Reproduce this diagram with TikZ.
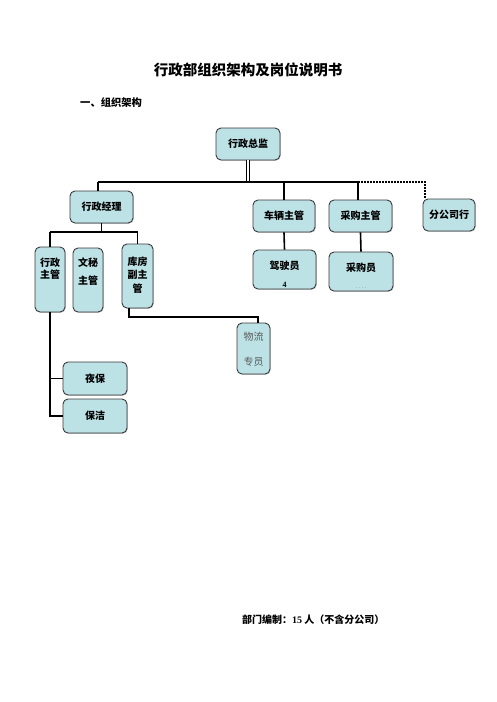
\documentclass[tikz,border=0pt]{standalone}
\usepackage{fontspec}
\setmainfont{Liberation Serif}
\newfontfamily\cjk{Noto Sans CJK SC}
\usetikzlibrary{shadows}
\definecolor{boxc}{HTML}{BCE2E6}
\definecolor{edgec}{HTML}{3A3A3A}
\tikzset{
  box/.style={draw=edgec, fill=boxc, rounded corners=5pt, line width=0.9pt,
    inner sep=0pt, align=center, font=\cjk\bfseries\fontsize{10}{12}\selectfont,
    drop shadow={shadow xshift=0.8pt, shadow yshift=-0.8pt, fill=black!35, opacity=0.6}},
  link/.style={line width=1.6pt, draw=black},
  thin/.style={line width=0.8pt, draw=black},
}
\begin{document}
\begin{tikzpicture}[x=1pt,y=-1pt]
\useasboundingbox (0,0) rectangle (496,702);
% texts
\node[font=\cjk\bfseries\fontsize{14.5}{16}\selectfont] (title) at (248,70) {行政部组织架构及岗位说明书};
\node[anchor=west, inner sep=0pt, font=\cjk\bfseries\fontsize{10.3}{12}\selectfont] (sec) at (80,103) {一、组织架构};
\node[anchor=west, inner sep=0pt, font=\cjk\bfseries\fontsize{10}{12}\selectfont] (foot) at (242,620) {部门编制：{\rmfamily 15} 人（不含分公司）};
% boxes
\node[box, minimum width=64pt, minimum height=32pt] (zj) at (248,144) {行政总监};
\node[box, minimum width=63pt, minimum height=32pt] (jl) at (101.5,207) {行政经理};
\node[box, minimum width=62pt, minimum height=32pt] (cl) at (284,216) {车辆主管};
\node[box, minimum width=63pt, minimum height=32pt] (cg) at (360.5,216) {采购主管};
\node[box, minimum width=52pt, minimum height=32pt] (fg) at (449,215) {分公司行};
\node[box, minimum width=63pt, minimum height=39pt] (js) at (284.5,269.5) {};
\node[font=\cjk\bfseries\fontsize{10}{12}\selectfont] (jst) at (284.5,266) {驾驶员};
\node[font=\rmfamily\bfseries\fontsize{8}{9}\selectfont] (jsn) at (284.5,284.5) {4};
\node[box, minimum width=64pt, minimum height=39pt] (cy) at (361,271.5) {};
\node[font=\cjk\bfseries\fontsize{10}{12}\selectfont] (cyt) at (361,268) {采购员};
\node[font=\fontsize{5}{6}\selectfont, text=black!70] (cyd) at (361,288.5) {.\,\,\,.\,\,.\,\,.};
\node[box, minimum width=30pt, minimum height=65pt] (xz) at (50,279.5) {};
\node[font=\cjk\bfseries\fontsize{10}{12.5}\selectfont, align=center, anchor=north] (xzt) at (50,254) {行政\\主管};
\node[box, minimum width=30pt, minimum height=64pt] (wm) at (88,280) {};
\node[font=\cjk\bfseries\fontsize{10}{18}\selectfont, align=center, anchor=north] (wmt) at (88,254) {文秘\\主管};
\node[box, minimum width=31pt, minimum height=64pt] (kf) at (137.5,276) {};
\node[font=\cjk\bfseries\fontsize{10}{13.5}\selectfont, align=center, anchor=north] (kft) at (137.5,253) {库房\\副主\\管};
\node[box, minimum width=33pt, minimum height=51pt] (wl) at (253.5,348.5) {};
\node[font=\cjk\fontsize{10}{25}\selectfont, text=black!65, align=center] (wlt) at (253.5,349.5) {物流\\专员};
\node[box, minimum width=64pt, minimum height=33pt] (yb) at (95,378.5) {夜保};
\node[box, minimum width=64pt, minimum height=34pt] (bj) at (95,416) {保洁};
% connectors
\coordinate (bL) at (98,182);
\coordinate (bR) at (358,182);
\coordinate (dC) at (425,182);
\draw[line width=0.8pt, double=white, double distance=2.4pt] (zj.south) -- (zj.south |- bL);
\draw[link] (bL) -- (bR);
\draw[link] (bL) -- (bL |- jl.north);
\draw[link] (cl.north) -- (cl.north |- bL);
\draw[link] (bR) -- (bR |- cg.north);
\draw[line width=1.6pt, dash pattern=on 1.6pt off 1.4pt] (bR) -- (dC) -- (dC |- fg.north);
\draw[link] (cl.south) -- (js.north);
\draw[link] (cg.south) -- (cy.north);
\coordinate (b2L) at (50,232);
\coordinate (b2R) at (137.5,232);
\draw[link] (jl.south) -- (jl.south |- b2L);
\draw[line width=2pt] (b2L) -- (b2R);
\draw[link] (b2L) -- (xz.north);
\draw[link] (b2R) -- (kf.north);
\coordinate (k1) at (129,317);
\coordinate (k2) at (258,317);
\draw[link] (k1 |- kf.south) -- (k1) -- (k2) -- (k2 |- wl.north);
\coordinate (v1) at (50,416);
\draw[link] (xz.south) -- (v1) -- (bj.west);
\draw[thin] (xz.south |- yb.west) -- (yb.west);
\end{tikzpicture}
\end{document}
